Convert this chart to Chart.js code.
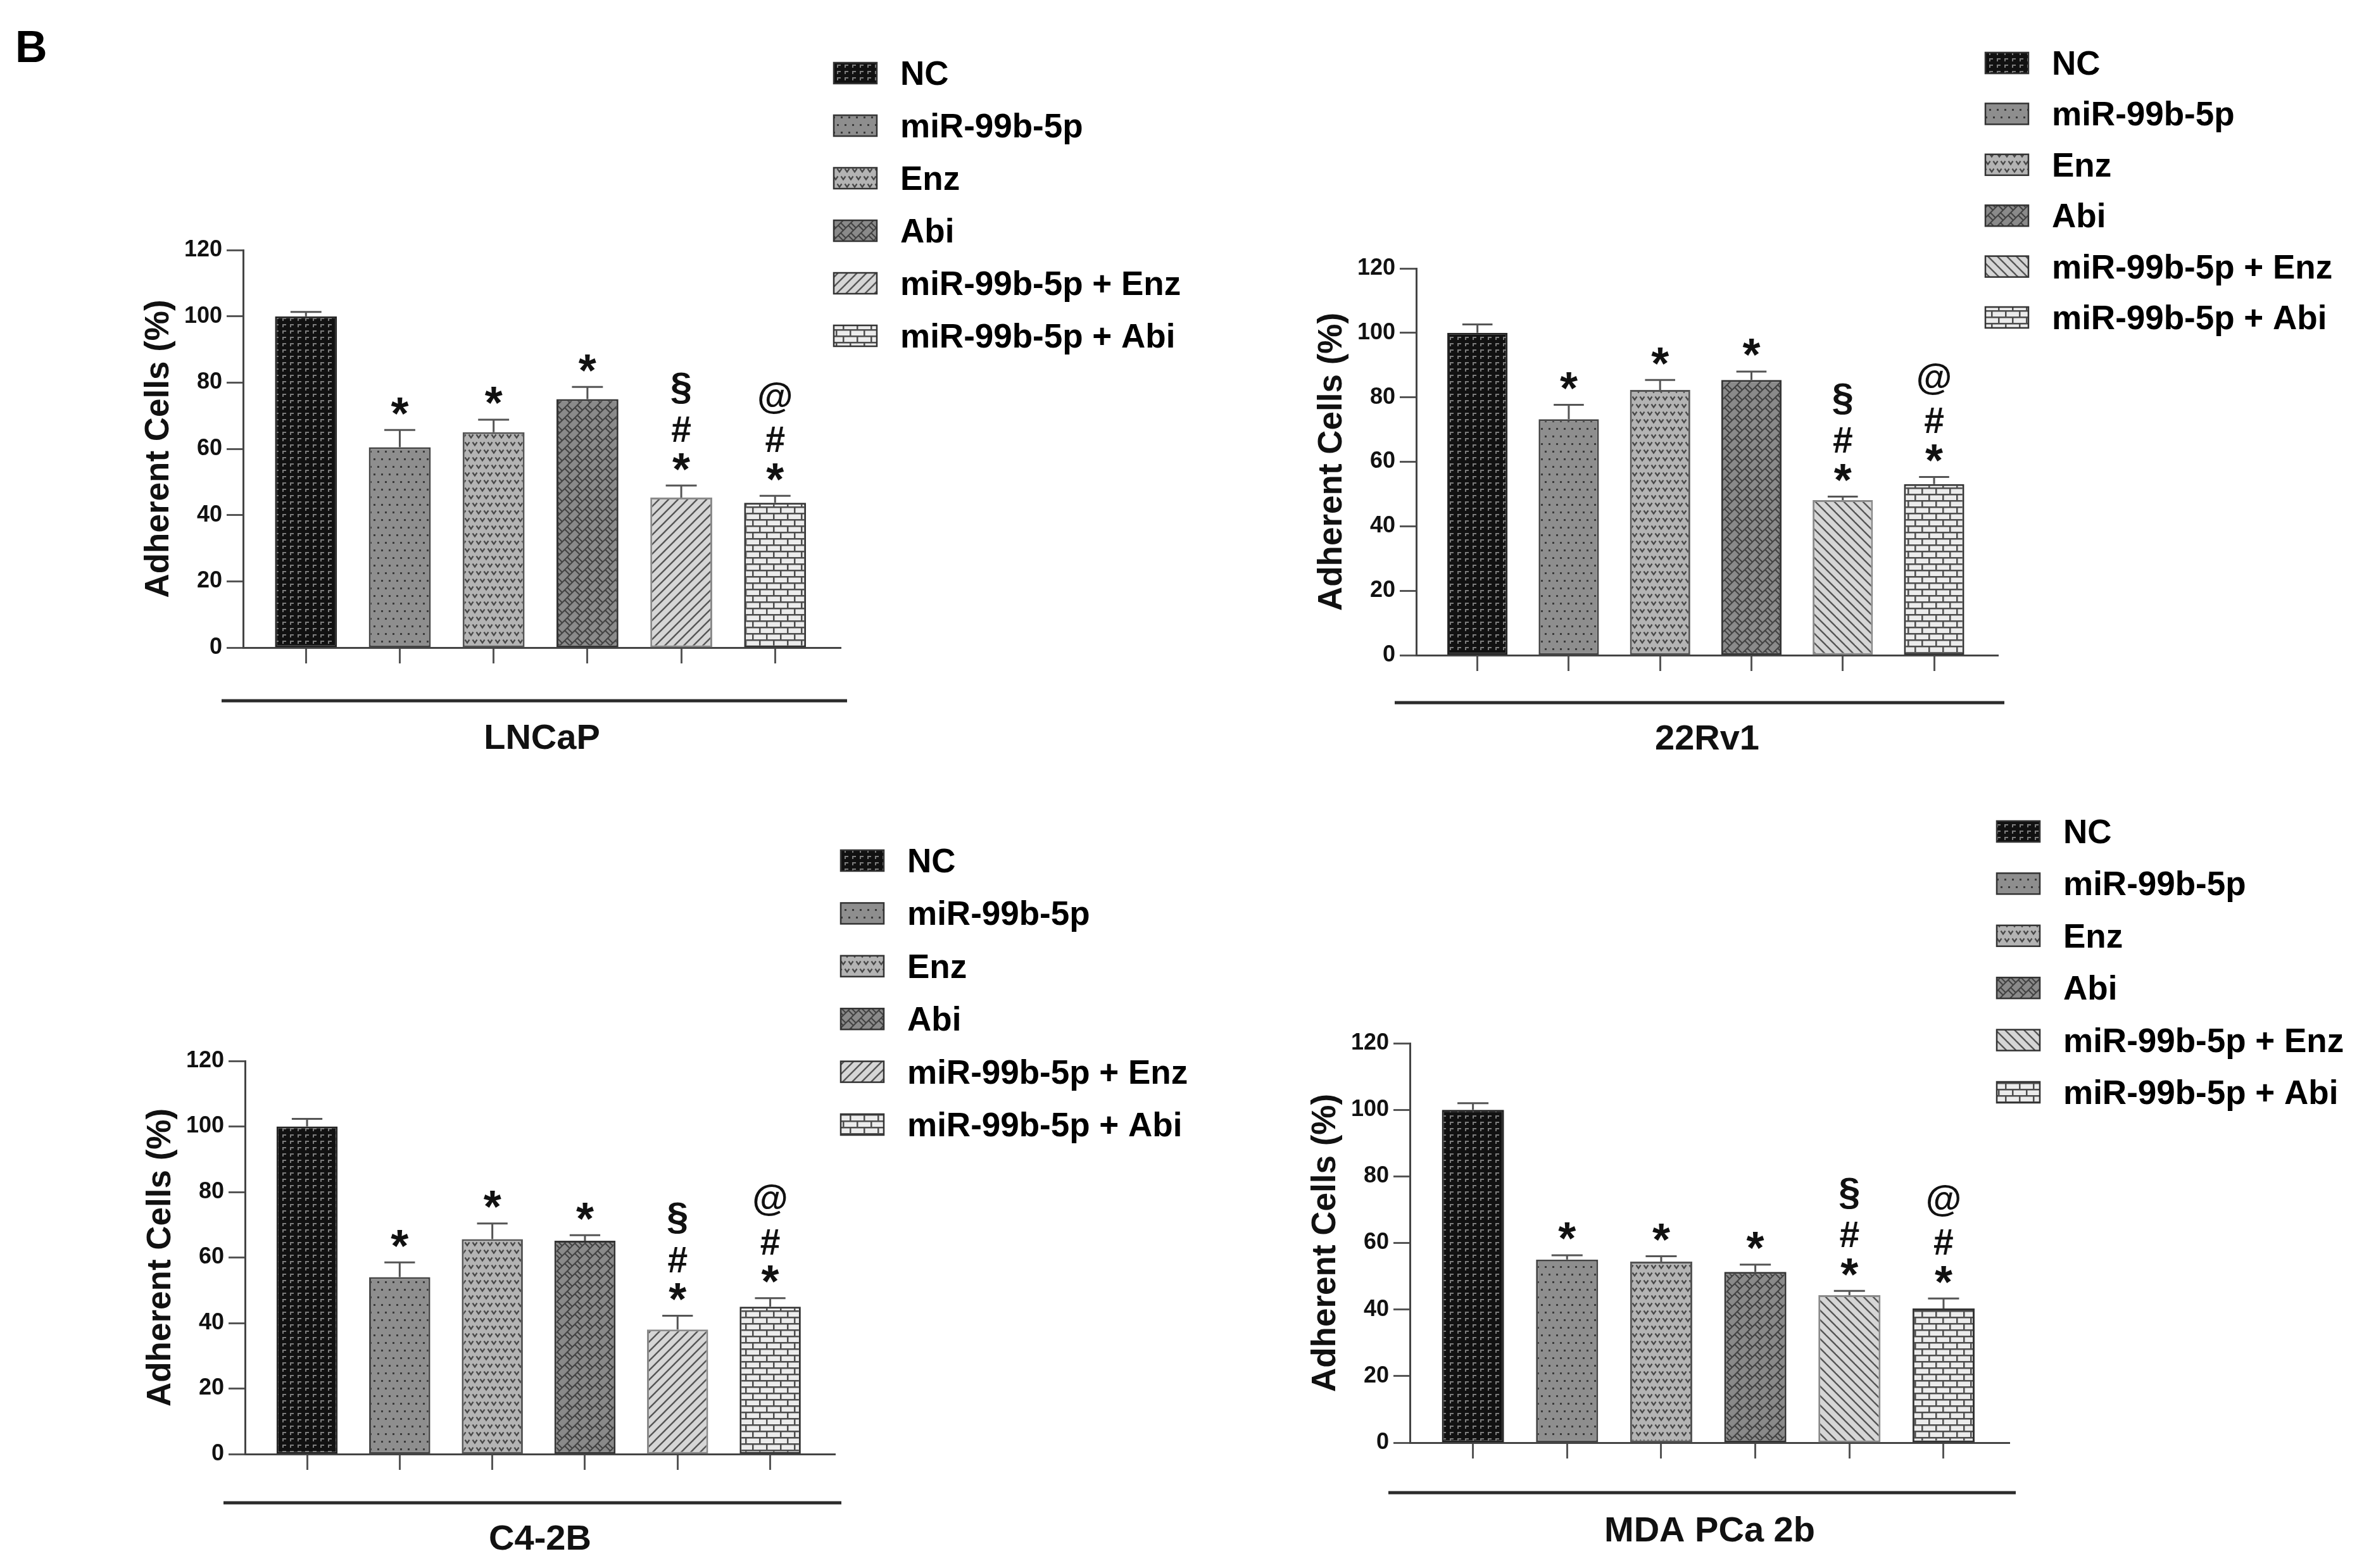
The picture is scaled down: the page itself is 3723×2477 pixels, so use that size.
<!DOCTYPE html>
<html>
<head>
<meta charset="utf-8">
<script src="https://cdn.jsdelivr.net/npm/chart.js@4.4.1/dist/chart.umd.min.js"></script>
<style>
  html, body { margin: 0; padding: 0; background: #fff; }
  body { width: 3723px; height: 2477px; position: relative; overflow: hidden; }
  canvas { position: absolute; }
  #panelLetter { position: absolute; left: 24px; top: 39px; z-index: 5;
    font: bold 70px 'Liberation Sans', Arial, sans-serif; line-height: 70px; color: #000; }
</style>
</head>
<body>
<canvas id="lncap"></canvas>
<canvas id="rv1"></canvas>
<canvas id="c42b"></canvas>
<canvas id="mda"></canvas>
<div id="panelLetter">B</div>
<script>
// groups, in bar order
const groups = ['NC', 'miR-99b-5p', 'Enz', 'Abi', 'miR-99b-5p + Enz', 'miR-99b-5p + Abi'];
const yTicks = [0, 20, 40, 60, 80, 100, 120];
// significance marks above each bar, bottom to top
const marks = [[], ['*'], ['*'], ['*'], ['*', '#', '§'], ['*', '#', '@']];

// adherent cells (%), mean and error
const lncapMean = [100, 60.5, 65, 75, 45.3, 43.7];
const lncapErr  = [1.3, 5.2, 3.8, 3.7, 3.6, 2.1];
const rv1Mean   = [100, 73.2, 82.3, 85.4, 48.1, 53.1];
const rv1Err    = [2.6, 4.5, 3.1, 2.6, 1.1, 2.2];
const c42bMean  = [100, 54, 65.6, 65.1, 38, 45];
const c42bErr   = [2.3, 4.5, 4.8, 1.7, 4.2, 2.6];
const mdaMean   = [100, 55, 54.4, 51.3, 44.3, 40.3];
const mdaErr    = [2, 1.3, 1.6, 2.2, 1.3, 3];

const FONT = "'Liberation Sans', Arial, sans-serif";
Chart.defaults.font.family = FONT;

// page layout of the four panels
const panels = [
  { id: 'lncap', name: 'LNCaP', mean: lncapMean, err: lncapErr, box: [0, 0, 1880, 1240],
    axisX: 384, top: 395, base: 1023, right: 1328, labelDy: 144, lineDy: 84,
    legendX: 1317, legendY: 115, legendStep: 83, hatch: '/' },
  { id: 'rv1', name: '22Rv1', mean: rv1Mean, err: rv1Err, box: [1880, 0, 1843, 1240],
    axisX: 2237, top: 424, base: 1035, right: 3156, labelDy: 133, lineDy: 75,
    legendX: 3136, legendY: 99, legendStep: 80.4, hatch: '\\' },
  { id: 'c42b', name: 'C4-2B', mean: c42bMean, err: c42bErr, box: [0, 1240, 1880, 1237],
    axisX: 387, top: 1676, base: 2297, right: 1319, labelDy: 135, lineDy: 77,
    legendX: 1328, legendY: 1359, legendStep: 83.4, hatch: '/' },
  { id: 'mda', name: 'MDA PCa 2b', mean: mdaMean, err: mdaErr, box: [1880, 1240, 1843, 1237],
    axisX: 2227, top: 1648, base: 2279, right: 3174, labelDy: 140, lineDy: 79,
    legendX: 3154, legendY: 1313, legendStep: 82.4, hatch: '\\' }
];

const borders = ['#222', '#444', '#555', '#333', '#8a8a8a', '#333'];

function tile(ctx, w, h, paint) {
  const c = document.createElement('canvas');
  c.width = w; c.height = h;
  const g = c.getContext('2d');
  paint(g, w, h);
  return ctx.createPattern(c, 'repeat');
}

function lines(g, segs) {
  segs.forEach(([a, b, c, d]) => { g.beginPath(); g.moveTo(a, b); g.lineTo(c, d); g.stroke(); });
}

function makeFills(ctx, hatch) {
  const nc = tile(ctx, 12, 10, g => {
    g.fillStyle = '#111'; g.fillRect(0, 0, 12, 10);
    g.fillStyle = '#7d7d7d'; g.fillRect(2, 2, 6, 2); g.fillRect(2, 2, 2, 5);
  });
  const mir = tile(ctx, 12, 24, g => {
    g.fillStyle = '#8e8e8e'; g.fillRect(0, 0, 12, 24);
    g.fillStyle = '#3a3a3a'; g.fillRect(2, 4, 3, 3); g.fillRect(8, 16, 3, 3);
  });
  const enz = tile(ctx, 12, 24, g => {
    g.fillStyle = '#b4b4b4'; g.fillRect(0, 0, 12, 24);
    g.strokeStyle = '#474747'; g.lineWidth = 2.2;
    [[6, 5], [0, 17], [12, 17]].forEach(([cx, cy]) => {
      g.beginPath(); g.moveTo(cx - 3.5, cy - 2.5); g.lineTo(cx, cy + 2.5); g.lineTo(cx + 3.5, cy - 2.5); g.stroke();
    });
  });
  const abi = tile(ctx, 16, 16, g => {
    g.fillStyle = '#8a8a8a'; g.fillRect(0, 0, 16, 16);
    g.strokeStyle = '#424242'; g.lineWidth = 2;
    lines(g, [[-8, 8, 8, -8], [0, 16, 16, 0], [8, 24, 24, 8],
              [0, 0, 8, 8], [16, 0, 24, 8], [-16, 0, -8, 8], [0, 16, 8, 24], [0, -16, 8, -8],
              [12, 4, 20, 12], [-4, 4, 4, 12], [12, -12, 20, -4], [12, 20, 20, 28]]);
  });
  const mixEnz = tile(ctx, 15, 15, g => {
    g.fillStyle = '#d6d6d6'; g.fillRect(0, 0, 15, 15);
    g.strokeStyle = '#555'; g.lineWidth = 2.4;
    lines(g, hatch === '/'
      ? [[-7.5, 7.5, 7.5, -7.5], [0, 15, 15, 0], [7.5, 22.5, 22.5, 7.5]]
      : [[-7.5, 7.5, 7.5, 22.5], [0, 0, 15, 15], [7.5, -7.5, 22.5, 7.5]]);
  });
  const mixAbi = tile(ctx, 22, 20, g => {
    g.fillStyle = '#ececec'; g.fillRect(0, 0, 22, 20);
    g.fillStyle = '#4d4d4d';
    g.fillRect(0, 0, 22, 2.5); g.fillRect(0, 10, 22, 2.5);
    g.fillRect(0, 0, 2.5, 10); g.fillRect(11, 10, 2.5, 10);
  });
  return [nc, mir, enz, abi, mixEnz, mixAbi];
}

function makeChart(p) {
  const cv = document.getElementById(p.id);
  const [bx, by, bw, bh] = p.box;
  cv.width = bw; cv.height = bh;
  cv.style.left = bx + 'px'; cv.style.top = by + 'px';
  const fills = makeFills(cv.getContext('2d'), p.hatch);

  const yW = 200, xH = 180;
  const padding = {
    left: p.axisX - bx - yW,
    top: p.top - by,
    right: bw - (p.right - bx),
    bottom: bh - (p.base - by) - xH
  };

  const errorBars = {
    id: 'errorBars',
    afterDatasetsDraw(chart) {
      const { ctx, scales: { x, y } } = chart;
      const meta = chart.getDatasetMeta(0);
      ctx.save();
      ctx.strokeStyle = '#555'; ctx.lineWidth = 3;
      p.mean.forEach((v, i) => {
        const cx = x.getPixelForValue(i);
        const y0 = y.getPixelForValue(v);
        const y1 = y.getPixelForValue(v + p.err[i]);
        const half = meta.data[i].width * 0.25;
        ctx.beginPath();
        ctx.moveTo(cx, y0); ctx.lineTo(cx, y1);
        ctx.moveTo(cx - half, y1); ctx.lineTo(cx + half, y1);
        ctx.stroke();
      });
      ctx.restore();
    }
  };

  const sigMarks = {
    id: 'sigMarks',
    afterDatasetsDraw(chart) {
      const { ctx, scales: { x, y } } = chart;
      const lift = [38, 89, 154];
      const size = { '*': 72, '#': 57, '§': 62, '@': 58 };
      ctx.save();
      ctx.fillStyle = '#111';
      ctx.textAlign = 'center';
      ctx.textBaseline = 'alphabetic';
      marks.forEach((list, i) => {
        const cap = y.getPixelForValue(p.mean[i] + p.err[i]);
        const cx = x.getPixelForValue(i);
        list.forEach((s, k) => {
          ctx.font = 'bold ' + size[s] + 'px ' + FONT;
          const m = ctx.measureText(s);
          const centre = cap - lift[k];
          ctx.fillText(s, cx, centre + (m.actualBoundingBoxAscent - m.actualBoundingBoxDescent) / 2);
        });
      });
      ctx.restore();
    }
  };

  const bracket = {
    id: 'bracket',
    afterDraw(chart) {
      const { ctx, chartArea } = chart;
      ctx.save();
      ctx.strokeStyle = '#2b2b2b'; ctx.lineWidth = 5;
      const yy = chartArea.bottom + p.lineDy;
      ctx.beginPath();
      ctx.moveTo(chartArea.left - 34, yy); ctx.lineTo(chartArea.right + 10, yy);
      ctx.stroke();
      ctx.restore();
    }
  };

  const legendBox = {
    id: 'legendBox',
    afterDraw(chart) {
      const ctx = chart.ctx;
      ctx.save();
      ctx.font = 'bold 53px ' + FONT;
      ctx.textBaseline = 'alphabetic';
      ctx.textAlign = 'left';
      groups.forEach((g, i) => {
        const cy = p.legendY - by + i * p.legendStep;
        const lx = p.legendX - bx;
        ctx.fillStyle = fills[i];
        ctx.fillRect(lx, cy - 16, 68, 33);
        ctx.strokeStyle = '#333'; ctx.lineWidth = 2.5;
        ctx.strokeRect(lx, cy - 16, 68, 33);
        ctx.fillStyle = '#000';
        ctx.fillText(g, lx + 105, cy + 19);
      });
      ctx.restore();
    }
  };

  return new Chart(cv, {
    type: 'bar',
    data: {
      datasets: [{
        data: p.mean.map((v, i) => ({ x: i, y: v })),
        backgroundColor: fills,
        borderColor: borders,
        borderWidth: 3,
        borderSkipped: false,
        barPercentage: 0.66,
        categoryPercentage: 1
      }]
    },
    options: {
      responsive: false,
      animation: false,
      devicePixelRatio: 1,
      layout: { padding },
      plugins: { legend: { display: false }, tooltip: { enabled: false } },
      scales: {
        x: {
          type: 'linear', min: -0.67, max: 5.7, offset: false,
          afterBuildTicks: s => { s.ticks = groups.map((g, i) => ({ value: i })); },
          afterFit: s => { s.height = xH; s.paddingLeft = 0; s.paddingRight = 0; },
          ticks: { display: false },
          grid: { offset: false, drawOnChartArea: false, drawTicks: true, tickLength: 25, tickColor: '#555', tickWidth: 3 },
          border: { display: true, color: '#444', width: 3 },
          title: {
            display: true, text: p.name, color: '#111',
            font: { size: 56, weight: 'bold' },
            padding: { top: 0, bottom: Math.max(0, xH - p.labelDy - 34) }
          }
        },
        y: {
          min: 0, max: 120,
          afterBuildTicks: s => { s.ticks = yTicks.map(v => ({ value: v })); },
          afterFit: s => { s.width = yW; s.paddingTop = 0; s.paddingBottom = 0; },
          ticks: { font: { size: 36, weight: 'bold' }, color: '#111', padding: 7 },
          grid: { drawOnChartArea: false, tickLength: 26, tickColor: '#555', tickWidth: 3 },
          border: { display: true, color: '#444', width: 3 },
          title: {
            display: true, text: 'Adherent Cells (%)', color: '#111',
            font: { size: 53, weight: 'bold' },
            padding: { top: 36, bottom: 0 }
          }
        }
      }
    },
    plugins: [errorBars, sigMarks, bracket, legendBox]
  });
}

panels.forEach(makeChart);
</script>
</body>
</html>
